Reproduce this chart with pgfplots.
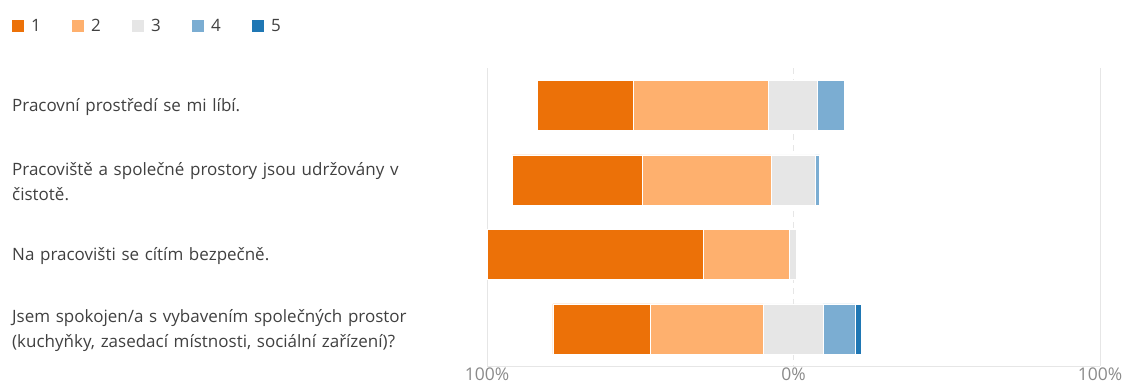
\documentclass[border=0pt]{standalone}
\usepackage{fontspec}
\setmainfont{Open Sans}
\usepackage{pgfplots}
\usepackage{pgfplotstable}
\pgfplotsset{compat=1.18}
\definecolor{c1}{HTML}{EC7108}
\definecolor{c2}{HTML}{FEB06E}
\definecolor{c3}{HTML}{E6E6E6}
\definecolor{c4}{HTML}{7BADD2}
\definecolor{c5}{HTML}{1F77B4}
\definecolor{gridgray}{HTML}{E6E6E6}
\definecolor{labelgray}{HTML}{404040}
\definecolor{tickgray}{HTML}{8A8A8A}
\pgfplotsset{sqlegend/.style={legend image code/.code={\fill[##1, draw=none] (0pt,-6pt) rectangle (12pt,6pt);}}}
% x runs from 0 (= 100% on the left) through 100 (= 0%) to 200 (= 100% on the right)
\pgfplotstableread{
y off p1 p2 p3 p4 p5
1 16.5 31.2 44.0 16.2 8.6 0
2 8.3 42.3 42.1 14.4 1.4 0
3 0.1 70.3 28.3 2.2 0 0
4 21.5 31.8 36.9 19.4 10.5 2.1
}\data
\begin{document}
\begin{tikzpicture}
\useasboundingbox (0,0) rectangle (1123pt,383pt);
\begin{axis}[
  at={(487pt,17pt)}, anchor=south west,
  scale only axis, width=613pt, height=298pt,
  xbar stacked, bar width=50pt,
  xmin=0, xmax=200, ymin=0.5, ymax=4.5, y dir=reverse,
  axis x line*=bottom, axis y line*=left,
  x axis line style={draw=gridgray, line width=1pt, -},
  y axis line style={draw=none},
  major tick length=0pt,
  ytick={1,2,3,4},
  yticklabels={{Pracovní prostředí se mi líbí.},{Pracoviště a společné prostory jsou udržovány v\\čistotě.},{Na pracovišti se cítím bezpečně.},{Jsem spokojen/a s vybavením společných prostor\\(kuchyňky, zasedací místnosti, sociální zařízení)?}},
  yticklabel style={anchor=west, text width=460pt, align=left, inner sep=0pt, xshift=-475pt, yshift=-2pt, font=\fontsize{17}{25}\selectfont, text=labelgray},
  xtick={0,200}, xticklabels={100\%,100\%},
  extra x ticks={100}, extra x tick labels={0\%},
  extra x tick style={grid style={draw=gridgray, line width=1pt, dash pattern=on 6pt off 5pt}},
  xmajorgrids, grid style={draw=gridgray, line width=1pt},
  xticklabel style={font=\fontsize{17.5}{18}\selectfont, text=tickgray, inner ysep=1pt, yshift=-1pt},
  /pgf/number format/assume math mode=true,
  legend columns=5,
  legend entries={,1,2,3,4,5},
  legend style={at={(axis description cs:-0.7748,1.1409)}, anchor=west, draw=none, fill=none, inner sep=0pt,
    font=\fontsize{17}{18}\selectfont, text=labelgray,
    nodes={inner xsep=0pt, text width=41pt, align=left},
    /tikz/every odd column/.append style={column sep=7pt},
    /tikz/every even column/.append style={column sep=0pt}},
  every axis plot/.append style={draw=white, line width=0.5pt, sqlegend},
]
\addplot[draw=none, fill=none] table[x=off, y=y] {\data};
\addplot[fill=c1] table[x=p1, y=y] {\data};
\addplot[fill=c2] table[x=p2, y=y] {\data};
\addplot[fill=c3] table[x=p3, y=y] {\data};
\addplot[fill=c4] table[x=p4, y=y] {\data};
\addplot[fill=c5] table[x=p5, y=y] {\data};
\end{axis}
\end{tikzpicture}
\end{document}
